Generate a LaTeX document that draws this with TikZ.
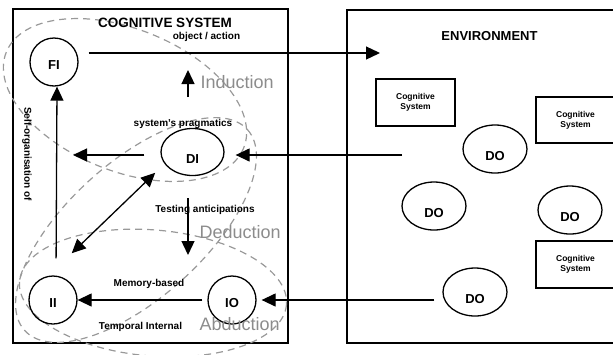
\documentclass[tikz,border=0pt]{standalone}
\usepackage{fontspec}
\setmainfont{Liberation Sans}
\usetikzlibrary{shapes.geometric,arrows.meta}

\begin{document}
\begin{tikzpicture}
[x=1pt,y=-1pt,line width=1.3pt,
 every node/.style={inner sep=0pt},
 state/.style={draw,circle,minimum size=48pt,font=\fontsize{13}{13}\selectfont\bfseries,text height=14pt,text depth=0pt},
 obj/.style={draw,ellipse,minimum width=64pt,minimum height=48pt,font=\fontsize{13}{13}\selectfont\bfseries,text height=22pt,text depth=0pt},
 csys/.style={draw,rectangle,minimum width=79pt,minimum height=47pt,align=center,font=\fontsize{8.5}{10}\selectfont\bfseries},
 note/.style={font=\fontsize{10}{12}\selectfont\bfseries,anchor=base},
 mode/.style={font=\fontsize{18}{20}\selectfont,text=black!45,anchor=base west},
 zone/.style={draw=black!40,line width=1.2pt,dash pattern=on 7pt off 5pt},
 arr/.style={-{Triangle[length=14pt,width=13pt]}},
 dblarr/.style={{Triangle[length=14pt,width=13pt]}-{Triangle[length=14pt,width=13pt]}}]

  \useasboundingbox (0,0) rectangle (613,354);

  % frames
  \draw[line width=1.5pt] (13,9) rectangle (288,343);
  \draw[line width=1.5pt] (347,10) rectangle (618,343);

  % inference zones
  \draw[zone,rotate around={-22:(125,100)}] (125,100) ellipse (128 and 71);
  \draw[zone,rotate around={42:(136,230)}] (136,230) ellipse (150 and 68);
  \draw[zone,rotate around={-5:(153,293)}] (153,293) ellipse (134 and 63);

  % cognitive system
  \node (fi) at (54,62) [state] {FI};
  \node (di) at (192.5,152) [obj,minimum width=63pt,minimum height=47pt] {DI};
  \node (ii) at (53,300) [state] {II};
  \node (io) at (232,300) [state] {IO};

  % environment
  \node (cs1) at (415.5,102.5) [csys] {Cognitive\\System};
  \node (cs2) at (575.5,120) [csys,minimum height=46pt] {Cognitive\\System};
  \node (cs3) at (575.5,264.5) [csys] {Cognitive\\System};
  \node (do1) at (495,149) [obj] {DO};
  \node (do2) at (434,206) [obj] {DO};
  \node (do3) at (570,210) [obj] {DO};
  \node (do4) at (475,292) [obj] {DO};

  \coordinate (envin) at (380,53);
  \coordinate (dil) at (73,155);
  \coordinate (dir) at (402,155);
  \coordinate (ind1) at (188,97);
  \coordinate (ind2) at (188,70);
  \coordinate (ded1) at (188,198);
  \coordinate (ded2) at (188,255);

  \foreach \from/\to in {ind1/ind2,ded1/ded2}
    \draw[arr] (\from) -- (\to);
  \draw[arr,shorten <=10pt] (fi.east |- envin) -- (envin);
  \draw[arr,shorten <=16pt] (di.west |- dil) -- (dil);
  \draw[arr,shorten >=11pt] (dir) -- (di.east |- dir);
  \draw[arr,shorten <=17pt] ([xshift=3pt]ii.north) -- ([xshift=3pt]fi.south);
  \draw[dblarr,shorten <=30pt,shorten >=26pt] ([xshift=-15.7pt]di.center) -- ([yshift=28.7pt]ii.center);
  \draw[arr,shorten <=5pt] (io.west) -- (ii.east);
  \draw[arr,shorten <=8pt,shorten >=5pt] (do4.west |- io.east) -- (io.east);

  % labels
  \node (cstitle) at (165,27) [note,font=\fontsize{13.5}{14}\selectfont\bfseries] {COGNITIVE SYSTEM};
  \node (envtitle) at (489.5,40) [note,font=\fontsize{13}{14}\selectfont\bfseries] {ENVIRONMENT};
  \node (objact) at (206.5,39.5) [note] {object / action};
  \node (prag) at (183,126.5) [note] {system's pragmatics};
  \node (test) at (205,212.5) [note] {Testing anticipations};
  \node (mem) at (149,286.5) [note] {Memory-based};
  \node (temp) at (140.5,329.5) [note] {Temporal Internal};
  \node (self) at (27,154) [note,anchor=center,rotate=-90] {Self-organisation of};
  \node (ind) at (200,88) [mode] {Induction};
  \node (ded) at (199,238) [mode] {Deduction};
  \node (abd) at (199,330.5) [mode] {Abduction};
\end{tikzpicture}
\end{document}
